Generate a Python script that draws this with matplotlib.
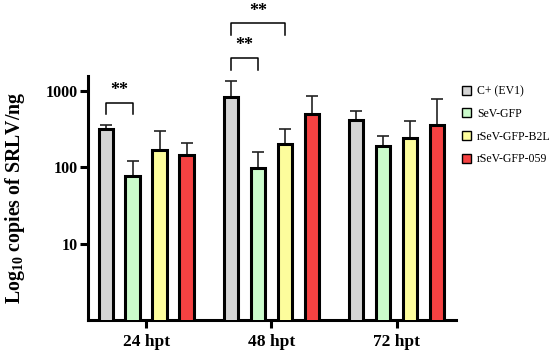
import matplotlib
matplotlib.use("Agg")
import matplotlib.pyplot as plt
import numpy as np
from matplotlib.patches import Patch

plt.rcParams["font.family"] = ["Liberation Serif", "DejaVu Serif"]
plt.rcParams["mathtext.fontset"] = "custom"
plt.rcParams["mathtext.rm"] = "Liberation Serif"
plt.rcParams["mathtext.bf"] = "Liberation Serif:bold"

# --- data ---
timepoints = ["24 hpt", "48 hpt", "72 hpt"]
groups = ["C+ (EV1)", "SeV-GFP", "rSeV-GFP-B2L", "rSeV-GFP-059"]
colors = ["#d4d4d4", "#ccfccc", "#fdfd9c", "#f54242"]

means = {
    "C+ (EV1)":     [318, 826, 413],
    "SeV-GFP":      [77, 96, 190],
    "rSeV-GFP-B2L": [167, 200, 240],
    "rSeV-GFP-059": [144, 500, 355],
}
upper = {
    "C+ (EV1)":     [352, 1352, 547],
    "SeV-GFP":      [120, 156, 255],
    "rSeV-GFP-B2L": [299, 312, 404],
    "rSeV-GFP-059": [208, 845, 771],
}

# significance: (timepoint index, group a, group b, label)
sig_pairs = [
    (0, 0, 1, "**"),
    (1, 0, 1, "**"),
    (1, 0, 2, "**"),
]
# bracket heights (top, leg end, star) in data units
sig_levels = [(690, 495, 1000), (2686, 1870, 3900), (7710, 5370, 10800)]

fig = plt.figure(figsize=(5.5, 3.59), dpi=100)
ax = fig.add_axes([0.16, 0.1086, 0.669, 0.6795])

x = np.arange(len(timepoints))
offsets = [-0.322, -0.108, 0.108, 0.324]
width = 0.115

for i, g in enumerate(groups):
    vals = np.array(means[g])
    err = np.array(upper[g]) - vals
    ax.bar(x + offsets[i], vals, width, color=colors[i], edgecolor="black",
           linewidth=2.2, zorder=3)
    ax.errorbar(x + offsets[i], vals, yerr=[np.zeros_like(err), err], fmt="none",
                ecolor="#222222", elinewidth=1.2, capsize=4.5, capthick=1.2, zorder=2)

for (t, a, b, lab), (top, leg, star) in zip(sig_pairs, sig_levels):
    xa = x[t] + offsets[a]
    xb = x[t] + offsets[b]
    ax.plot([xa, xa, xb, xb], [leg, top, top, leg], color="black", lw=1.1,
            clip_on=False)
    ax.text((xa + xb) / 2, star, lab, ha="center", va="center", fontsize=13,
            fontweight="bold", clip_on=False)

ax.set_yscale("log")
ax.set_ylim(1, 1550)
ax.set_xlim(-0.464, 2.474)
ax.set_yticks([10, 100, 1000])
ax.set_yticklabels(["10", "100", "1000"])
ax.yaxis.set_minor_locator(matplotlib.ticker.NullLocator())
ax.set_xticks(x)
ax.set_xticklabels(timepoints)

for lab in ax.get_xticklabels():
    lab.set_fontsize(12.5)
    lab.set_fontweight("bold")
for lab in ax.get_yticklabels():
    lab.set_fontsize(11.5)
    lab.set_fontweight("bold")

ax.tick_params(axis="both", width=2.2, length=6, direction="out")
ax.tick_params(axis="y", pad=1)
ax.tick_params(axis="x", pad=4)
for side in ["top", "right"]:
    ax.spines[side].set_visible(False)
for side in ["left", "bottom"]:
    ax.spines[side].set_linewidth(2.2)

ax.set_ylabel("Log$_{\\mathbf{10}}$ copies of SRLV/ng", fontsize=14.3,
              fontweight="bold")
ax.yaxis.set_label_coords(-0.165, 0.5)

handles = [Patch(facecolor=c, edgecolor="black", linewidth=1.0) for c in colors]
fig.legend(handles, groups, loc="upper left", bbox_to_anchor=(0.82, 0.792),
           frameon=False, fontsize=8.5, handlelength=0.8, handleheight=0.8,
           handletextpad=0.5, labelspacing=0.9)

fig.savefig("out.png", dpi=100)
